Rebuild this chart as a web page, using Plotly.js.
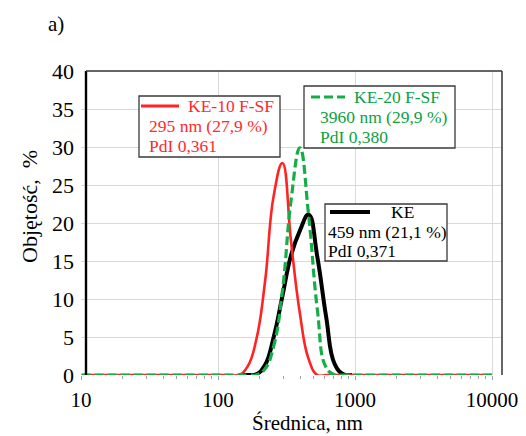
<!DOCTYPE html>
<html>
<head>
<meta charset="utf-8">
<script src="https://cdn.plot.ly/plotly-3.0.1.min.js"></script>
<style>html,body{margin:0;padding:0;background:#fff;}#chart{width:526px;height:436px;}</style>
</head>
<body>
<div id="chart"></div>
<script>
// Size bins (nm)
const diameters = [10.10, 11.70, 13.54, 15.69, 18.17, 21.04, 24.36, 28.21, 32.67, 37.84, 43.82, 50.75, 58.77, 68.06, 78.82, 91.28, 105.7, 122.4,
  141.8, 164.2, 190.1, 220.2, 255.0, 295.3, 342.0, 396.1, 458.7, 531.2, 615.1, 712.4, 825.0, 955.4,
  1106, 1281, 1484, 1718, 1990, 2305, 2669, 3091, 3580, 4145, 4801, 5560, 6439, 7456, 8635, 10000];
// Volume, %
const ke10 = [0,0,0,0,0,0,0,0,0,0,0,0,0,0,0,0,0,0,
  0, 1.1, 4.6, 12.2, 23.6, 27.9, 17.4, 8.1, 2.1, 0, 0, 0, 0, 0,
  0,0,0,0,0,0,0,0,0,0,0,0,0,0,0,0];
const ke20 = [0,0,0,0,0,0,0,0,0,0,0,0,0,0,0,0,0,0,
  0, 0, 0, 0.8, 3.8, 11.1, 23.1, 29.9, 21.0, 8.6, 1.0, 0, 0, 0,
  0,0,0,0,0,0,0,0,0,0,0,0,0,0,0,0];
const ke = [null,null,null,null,null,null,null,null,null,null,null,null,null,null,null,null,null,null,
  0, 0, 0.1, 1.3, 5.0, 10.4, 15.8, 19.0, 21.1, 15.5, 7.7, 1.4, 0.1, 0,
  null,null,null,null,null,null,null,null,null,null,null,null,null,null,null,null];

const seriesNames = ['KE-10 F-SF', 'KE-20 F-SF', 'KE'];
const seriesInfo = ['295 nm (27,9 %)', '3960 nm (29,9 %)', '459 nm (21,1 %)'];
const seriesPdI = ['PdI 0,361', 'PdI 0,380', 'PdI 0,371'];
const xTickVals = [10, 100, 1000, 10000];
const xTickText = ['10', '100', '1000', '10000'];
const xMinorVals = [20,30,40,50,60,70,80,90,200,300,400,500,600,700,800,900,2000,3000,4000,5000,6000,7000,8000,9000];

const RED = '#ff2323', GREEN = '#16ad48', BLACK = '#000000';
const RED_T = '#ff2a2a', GREEN_T = '#0f9f3f';
const FONT = '"Liberation Serif", "Times New Roman", serif';

// pixel helpers for decorations
const PL = 81, PR = 502, PT = 71, PB = 375;
const px = p => (p - PL) / (PR - PL);
const py = p => (PB - p) / (PB - PT);

const traces = [
  {x: diameters, y: ke, type: 'scatter', mode: 'lines', name: seriesNames[2],
   line: {color: BLACK, width: 4, shape: 'spline', smoothing: 1.3}, cliponaxis: false, connectgaps: false},
  {x: diameters, y: ke10, type: 'scatter', mode: 'lines', name: seriesNames[0],
   line: {color: RED, width: 2.6, shape: 'spline', smoothing: 1.3}, cliponaxis: false},
  {x: diameters, y: ke20, type: 'scatter', mode: 'lines', name: seriesNames[1],
   line: {color: GREEN, width: 3.2, dash: '9px,4px', shape: 'spline', smoothing: 1.3}, cliponaxis: false}
];

function box(x0, x1, y0, y1) {
  return {type: 'rect', xref: 'paper', yref: 'paper', x0: px(x0), x1: px(x1), y0: py(y1), y1: py(y0),
          line: {color: '#3a3a3a', width: 1.3}, fillcolor: 'rgba(255,255,255,1)', layer: 'above'};
}
function sample(x0, x1, y, color, width, dash) {
  return {type: 'line', xref: 'paper', yref: 'paper', x0: px(x0), x1: px(x1), y0: py(y), y1: py(y),
          line: {color: color, width: width, dash: dash || 'solid'}, layer: 'above'};
}
function label(text, x, y, color, size) {
  return {text: text, xref: 'paper', yref: 'paper', x: px(x), y: py(y), xanchor: 'left', yanchor: 'middle',
          showarrow: false, font: {family: FONT, size: size || 17.5, color: color}};
}

const shapes = [
  // frame
  {type: 'line', xref: 'paper', yref: 'paper', x0: px(86), x1: px(86), y0: 0, y1: 1, line: {color: '#000', width: 2.4}, layer: 'above'},
  {type: 'line', xref: 'paper', yref: 'paper', x0: px(86), x1: 1, y0: 1, y1: 1, line: {color: '#333', width: 1.5}, layer: 'above'},
  {type: 'line', xref: 'paper', yref: 'paper', x0: 1, x1: 1, y0: 0, y1: 1, line: {color: '#333', width: 1.5}, layer: 'above'},
  // legend boxes
  box(139, 280, 96, 157),
  sample(141, 179, 106, RED, 3),
  box(304, 455, 86, 148),
  sample(311, 345, 97, GREEN, 3.2, '9px,4px'),
  box(325, 447, 204, 261),
  sample(330, 370, 212, BLACK, 4.2)
];

const annotations = [
  label(seriesNames[0], 186, 106, RED_T),
  label(seriesInfo[0], 147, 126, RED_T),
  label(seriesPdI[0], 147, 145.5, RED_T),
  label(seriesNames[1], 352, 97, GREEN_T),
  label(seriesInfo[1], 318, 117, GREEN_T),
  label(seriesPdI[1], 318, 136.5, GREEN_T),
  label(seriesNames[2], 389, 212, '#000'),
  label(seriesInfo[2], 326, 231.5, '#000'),
  label(seriesPdI[2], 326, 250.5, '#000'),
  // panel tag and axis titles
  {text: 'a)', xref: 'paper', yref: 'paper', x: px(46), y: py(24), xanchor: 'left', yanchor: 'middle', showarrow: false,
   font: {family: FONT, size: 21, color: '#000'}},
  {text: 'Objętość,  %', xref: 'paper', yref: 'paper', x: px(30), y: py(207), xanchor: 'center', yanchor: 'middle', showarrow: false,
   textangle: -90, font: {family: FONT, size: 22, color: '#000'}},
  {text: 'Średnica, nm', xref: 'paper', yref: 'paper', x: px(307), y: py(423), xanchor: 'center', yanchor: 'middle', showarrow: false,
   font: {family: FONT, size: 21, color: '#000'}}
];

const layout = {
  width: 526, height: 436,
  margin: {l: PL, r: 526 - PR, t: PT, b: 436 - PB, pad: 0},
  paper_bgcolor: '#fff', plot_bgcolor: '#fff',
  showlegend: false, hovermode: false,
  font: {family: FONT, color: '#000'},
  xaxis: {
    type: 'log', range: [1, 1 + (PR - PL) / 137], tickmode: 'array', tickvals: xTickVals, ticktext: xTickText,
    ticks: 'outside', ticklen: 4, tickcolor: '#a0a0a0', tickwidth: 1,
    showgrid: true, gridcolor: '#d9d9d9', gridwidth: 1, showline: false, zeroline: false,
    tickfont: {family: FONT, size: 21, color: '#000'}, ticklabelstandoff: 2,
    minor: {tickmode: 'array', tickvals: xMinorVals, ticks: 'outside', ticklen: 3, tickcolor: '#a0a0a0', showgrid: false}
  },
  yaxis: {
    range: [0, 40], tick0: 0, dtick: 5, ticks: '', showgrid: true, gridcolor: '#d9d9d9', gridwidth: 1,
    showline: false, zeroline: false, tickfont: {family: FONT, size: 22, color: '#000'}, ticklabelstandoff: 6
  },
  shapes: shapes,
  annotations: annotations
};

Plotly.newPlot('chart', traces, layout, {staticPlot: true, displayModeBar: false});
</script>
</body>
</html>
